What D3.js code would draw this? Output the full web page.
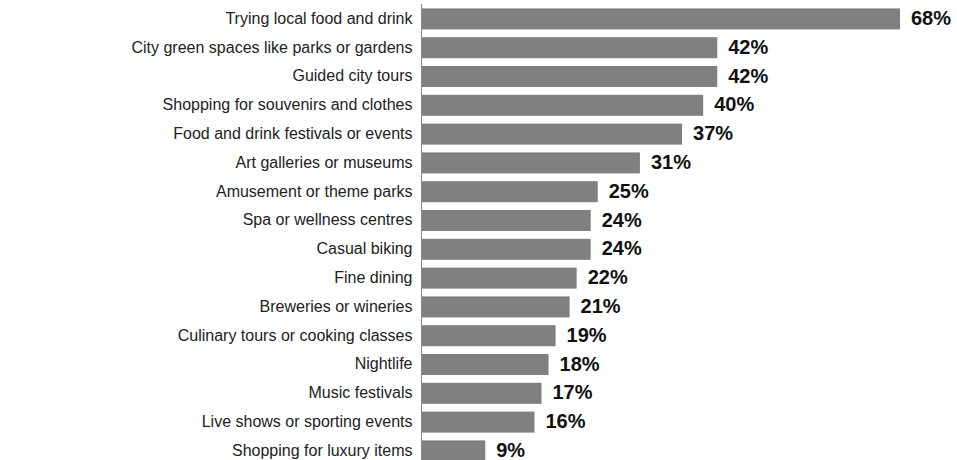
<!DOCTYPE html>
<html><head><meta charset="utf-8">
<script src="https://cdn.jsdelivr.net/npm/d3@7"></script>
<style>body{margin:0;background:#fff;}svg{display:block;}</style>
</head><body>
<svg id="c" width="957" height="460"></svg>
<script>
const categories = [
  "Trying local food and drink",
  "City green spaces like parks or gardens",
  "Guided city tours",
  "Shopping for souvenirs and clothes",
  "Food and drink festivals or events",
  "Art galleries or museums",
  "Amusement or theme parks",
  "Spa or wellness centres",
  "Casual biking",
  "Fine dining",
  "Breweries or wineries",
  "Culinary tours or cooking classes",
  "Nightlife",
  "Music festivals",
  "Live shows or sporting events",
  "Shopping for luxury items"
];
const values = [68, 42, 42, 40, 37, 31, 25, 24, 24, 22, 21, 19, 18, 17, 16, 9];

const svg = d3.select("#c");
const x0 = 422;
const x = d3.scaleLinear().domain([0, 68]).range([x0, 900]);
const y = d3.scaleBand().domain(categories).range([4.5, 465.3]).paddingInner(0.27).paddingOuter(0.135);

svg.selectAll("rect.bar").data(values).join("rect")
  .attr("class", "bar")
  .attr("x", x0)
  .attr("y", (d, i) => y(categories[i]))
  .attr("width", d => x(d) - x0)
  .attr("height", y.bandwidth())
  .attr("fill", "#808080");

const yAxis = d3.axisLeft(y).tickSize(0).tickPadding(9);
const g = svg.append("g").attr("transform", `translate(${x0 - 0.5},0)`).call(yAxis);
g.select(".domain").attr("stroke", "#888").attr("d", "M0,4V460");
g.selectAll("text").attr("font-family", "Arial, 'Liberation Sans', sans-serif")
  .attr("font-size", 16).attr("fill", "#222").attr("dy", "0.3em");

svg.selectAll("text.val").data(values).join("text")
  .attr("class", "val")
  .attr("x", d => x(d) + 11)
  .attr("y", (d, i) => y(categories[i]) + y.bandwidth() / 2)
  .attr("dy", "0.3em")
  .attr("font-family", "Arial, 'Liberation Sans', sans-serif")
  .attr("font-weight", "bold")
  .attr("font-size", 20)
  .attr("fill", "#111")
  .text(d => d + "%");
</script>
</body></html>
